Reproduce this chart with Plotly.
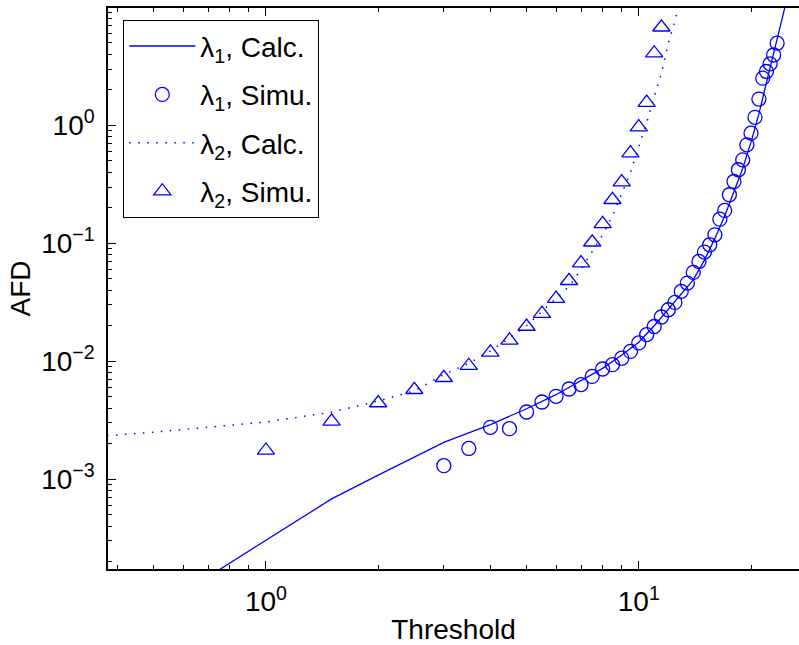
import plotly.graph_objects as go
import math

# --- data ---
thr_calc1 = [0.5, 1.5, 2, 3, 4, 5, 6, 7, 8, 9, 10, 11, 12, 13, 14, 15, 16, 17, 18, 19, 20, 21, 22, 23, 24, 25]
afd_calc1 = [7.6e-5, 6.8e-4, 1.08e-3, 2.05e-3, 2.9e-3, 3.95e-3, 5.2e-3, 6.8e-3, 8.7e-3, 1.13e-2, 1.45e-2,
             2.0e-2, 2.75e-2, 3.7e-2, 4.9e-2, 7.2e-2, 0.11, 0.17, 0.27, 0.43, 0.72, 1.25, 2.3, 4.0, 7.0, 12.0]

thr_sim1 = [3, 3.5, 4, 4.5, 5, 5.5, 6, 6.5, 7, 7.5, 8, 8.5, 9, 9.5, 10, 10.5, 11, 11.5, 12, 12.5,
            13, 13.5, 14, 14.5, 15, 15.5, 16, 16.5, 17, 17.5, 18, 18.5, 19, 19.5, 20, 20.5, 21, 21.5,
            22, 22.5, 23, 23.5]
afd_sim1 = [1.30e-3, 1.82e-3, 2.75e-3, 2.68e-3, 3.71e-3, 4.51e-3, 5.04e-3, 5.81e-3, 6.33e-3, 7.43e-3,
            8.59e-3, 9.34e-3, 1.06e-2, 1.21e-2, 1.43e-2, 1.68e-2, 1.97e-2, 2.37e-2, 2.73e-2, 3.15e-2,
            3.91e-2, 4.60e-2, 5.66e-2, 7.01e-2, 8.42e-2, 9.71e-2, 0.118, 0.160, 0.190, 0.258, 0.334,
            0.420, 0.510, 0.684, 0.859, 1.17, 1.67, 2.51, 2.86, 3.32, 3.95, 4.97]

thr_calc2 = [0.3, 0.377, 0.5, 1, 1.5, 2, 2.5, 3, 3.5, 4, 4.5, 5, 5.5, 6, 6.5, 7, 7.5, 8, 8.5, 9, 9.5,
             10, 10.5, 11, 11.5, 12, 12.5, 13]
afd_calc2 = [2.28e-3, 2.34e-3, 2.5e-3, 3.05e-3, 3.7e-3, 4.6e-3, 5.6e-3, 7.7e-3, 9.6e-3, 1.22e-2, 1.57e-2,
             2.0e-2, 2.65e-2, 3.4e-2, 4.3e-2, 6.0e-2, 8.4e-2, 0.118, 0.17, 0.26, 0.40, 0.66, 1.05, 1.75,
             2.75, 5.0, 7.6, 13.0]

thr_sim2 = [1, 1.5, 2, 2.5, 3, 3.5, 4, 4.5, 5, 5.5, 6, 6.5, 7, 7.5, 8, 8.5, 9, 9.5, 10, 10.5, 11, 11.5]
afd_sim2 = [1.75e-3, 3.09e-3, 4.42e-3, 5.73e-3, 7.24e-3, 9.16e-3, 1.19e-2, 1.50e-2, 1.97e-2, 2.53e-2,
            3.39e-2, 4.81e-2, 6.79e-2, 0.102, 0.146, 0.234, 0.330, 0.581, 0.965, 1.56, 4.09, 6.79]

x_major = [1, 10]
x_major_text = ["10<sup>0</sup>", "10<sup>1</sup>"]
y_major = [1e-3, 1e-2, 1e-1, 1]
y_major_text = ["10<sup>−3</sup>", "10<sup>−2</sup>", "10<sup>−1</sup>", "10<sup>0</sup>"]

BLUE = "#0000ff"
FONT = "Liberation Sans, Arial, sans-serif"
FS = 28

fig = go.Figure()
fig.add_trace(go.Scatter(x=thr_calc1, y=afd_calc1, mode="lines", name="λ<sub>1</sub>, Calc.",
                         line=dict(color=BLUE, width=1.3), legendgroup="a"))
fig.add_trace(go.Scatter(x=thr_sim1, y=afd_sim1, mode="markers", name="λ<sub>1</sub>, Simu.",
                         marker=dict(symbol="circle-open", size=14, color=BLUE, line=dict(width=1.3)),
                         legendgroup="b"))
fig.add_trace(go.Scatter(x=thr_calc2, y=afd_calc2, mode="lines", name="λ<sub>2</sub>, Calc.",
                         line=dict(color=BLUE, width=1.5, dash="1.5px,7.5px"), legendgroup="c"))
fig.add_trace(go.Scatter(x=thr_sim2, y=afd_sim2, mode="markers", name="λ<sub>2</sub>, Simu.",
                         marker=dict(symbol="triangle-up-open", size=15, color=BLUE, line=dict(width=1.3)),
                         legendgroup="d"))

x_minor = [0.4, 0.5, 0.6, 0.7, 0.8, 0.9, 2, 3, 4, 5, 6, 7, 8, 9, 20]
y_minor = []
for d in [1e-4, 1e-3, 1e-2, 1e-1, 1]:
    for m in range(2, 10):
        y_minor.append(m * d)

fig.update_layout(
    width=799, height=645,
    margin=dict(l=108, r=0, t=8, b=76),
    paper_bgcolor="white", plot_bgcolor="white",
    font=dict(family=FONT, size=FS, color="black"),
    showlegend=True,
    legend=dict(x=0.0217, y=0.9786, xanchor="left", yanchor="top",
                bgcolor="white", bordercolor="black", borderwidth=1.3,
                font=dict(size=FS, family=FONT), itemwidth=66,
                traceorder="grouped", tracegroupgap=9),
    xaxis=dict(type="log", range=[math.log10(0.377), math.log10(26.9)],
               showgrid=False, zeroline=False, showline=True, linecolor="black", linewidth=1.5,
               mirror="allticks", ticks="inside", ticklen=8, tickwidth=1.2, tickcolor="black",
               tickmode="array", tickvals=x_major, ticktext=x_major_text,
               tickfont=dict(size=FS), ticklabelstandoff=7,
               minor=dict(ticks="inside", ticklen=4, tickwidth=1, tickcolor="black",
                          tickmode="array", tickvals=x_minor, showgrid=False),
               title=dict(text="Threshold", font=dict(size=FS), standoff=6)),
    yaxis=dict(type="log", range=[-3.762, 0.995],
               showgrid=False, zeroline=False, showline=True, linecolor="black", linewidth=1.5,
               ticks="inside", ticklen=8, tickwidth=1.2, tickcolor="black",
               tickmode="array", tickvals=y_major, ticktext=y_major_text,
               tickfont=dict(size=FS), ticklabelstandoff=6,
               minor=dict(ticks="inside", ticklen=4, tickwidth=1, tickcolor="black",
                          tickmode="array", tickvals=y_minor, showgrid=False),
               title=dict(text="AFD", font=dict(size=FS), standoff=2)),
)

fig.write_html("out.html")
